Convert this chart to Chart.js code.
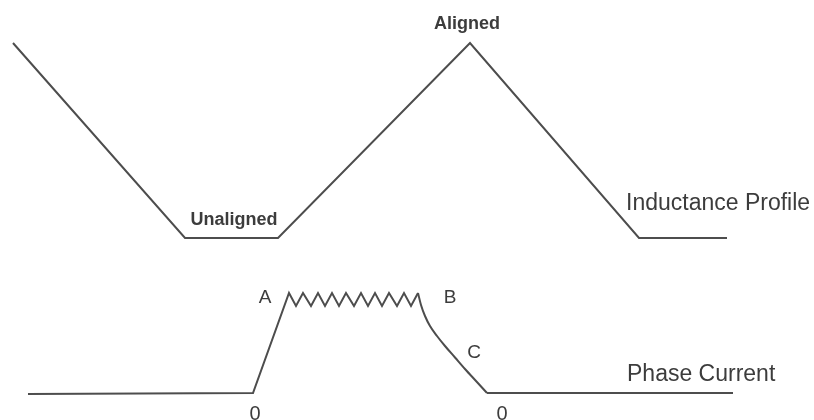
<!DOCTYPE html>
<html>
<head>
<meta charset="utf-8">
<title>Inductance profile and phase current</title>
<script src="https://cdn.jsdelivr.net/npm/chart.js@4/dist/chart.umd.min.js"></script>
<style>
  html, body { margin: 0; padding: 0; background: #fff; }
  #wrap { width: 814px; height: 420px; position: relative; }
</style>
</head>
<body>
<div id="wrap"><canvas id="srChart"></canvas></div>
<script>
// rotor position (x) and level (y, measured downward from the top)
const inductanceX = [13, 185, 278, 470, 639, 727];
const inductanceY = [43, 238, 238, 43, 238, 238];

// phase current: zero, rise, chopped flat top from A to B
const currentX = [28, 253, 289, 296, 303, 311, 318, 325, 332, 339, 346, 354, 361, 368, 375, 382, 389, 397, 404, 411, 418];
const currentY = [394, 393, 293, 306, 293, 306, 293, 306, 293, 306, 293, 306, 293, 306, 293, 306, 293, 306, 293, 306, 293];

// phase current: decay from B through C back to zero
const decayX = [418, 421, 425, 430, 437, 445, 455, 465, 476, 487];
const decayY = [293, 305, 316, 326, 336, 346, 357.5, 369, 381, 393];

// phase current: zero after commutation
const tailX = [487, 733];
const tailY = [393, 393];

// annotation text and where it sits on the axes
const noteText = ["Aligned", "Unaligned", "Inductance Profile", "A", "B", "C", "Phase Current", "0", "0"];
const noteX = [467, 234, 626, 265, 450, 474, 627, 255, 502];
const noteY = [29, 225, 210, 303, 303, 358, 381, 420, 420];

const toPoints = (xs, ys) => xs.map((x, i) => ({ x: x, y: ys[i] }));

const FONT = "'Liberation Sans', Arial, sans-serif";
const noteStyle = [
  { font: "bold 18px " + FONT, align: "center" },
  { font: "bold 18px " + FONT, align: "center" },
  { font: "23px " + FONT, align: "left" },
  { font: "19px " + FONT, align: "center" },
  { font: "19px " + FONT, align: "center" },
  { font: "19px " + FONT, align: "center" },
  { font: "23px " + FONT, align: "left" },
  { font: "20px " + FONT, align: "center" },
  { font: "20px " + FONT, align: "center" },
];

const notesPlugin = {
  id: "notes",
  afterDatasetsDraw: (chart) => {
    const ctx = chart.ctx;
    const xs = chart.scales.x;
    const ys = chart.scales.y;
    ctx.save();
    ctx.fillStyle = "#3c3c3c";
    ctx.textBaseline = "alphabetic";
    noteText.forEach((t, i) => {
      ctx.font = noteStyle[i].font;
      ctx.textAlign = noteStyle[i].align;
      ctx.fillText(t, xs.getPixelForValue(noteX[i]), ys.getPixelForValue(noteY[i]));
    });
    ctx.restore();
  },
};

const lineStyle = {
  borderColor: "#4d4d4d",
  borderWidth: 2,
  pointRadius: 0,
  tension: 0,
  fill: false,
  showLine: true,
};

new Chart(document.getElementById("srChart"), {
  type: "scatter",
  data: {
    datasets: [
      Object.assign({ label: "Inductance Profile", data: toPoints(inductanceX, inductanceY) }, lineStyle),
      Object.assign({ label: "Phase Current", data: toPoints(currentX, currentY) }, lineStyle),
      Object.assign({}, lineStyle, {
        label: "Phase Current decay",
        data: toPoints(decayX, decayY),
        cubicInterpolationMode: "monotone",
      }),
      Object.assign({ label: "Phase Current zero", data: toPoints(tailX, tailY) }, lineStyle),
    ],
  },
  options: {
    responsive: true,
    maintainAspectRatio: false,
    animation: false,
    layout: { padding: 0 },
    plugins: {
      legend: { display: false },
      tooltip: { enabled: false },
    },
    scales: {
      x: { type: "linear", min: 0, max: 814, display: false },
      y: { type: "linear", min: 0, max: 420, reverse: true, display: false },
    },
  },
  plugins: [notesPlugin],
});
</script>
</body>
</html>
